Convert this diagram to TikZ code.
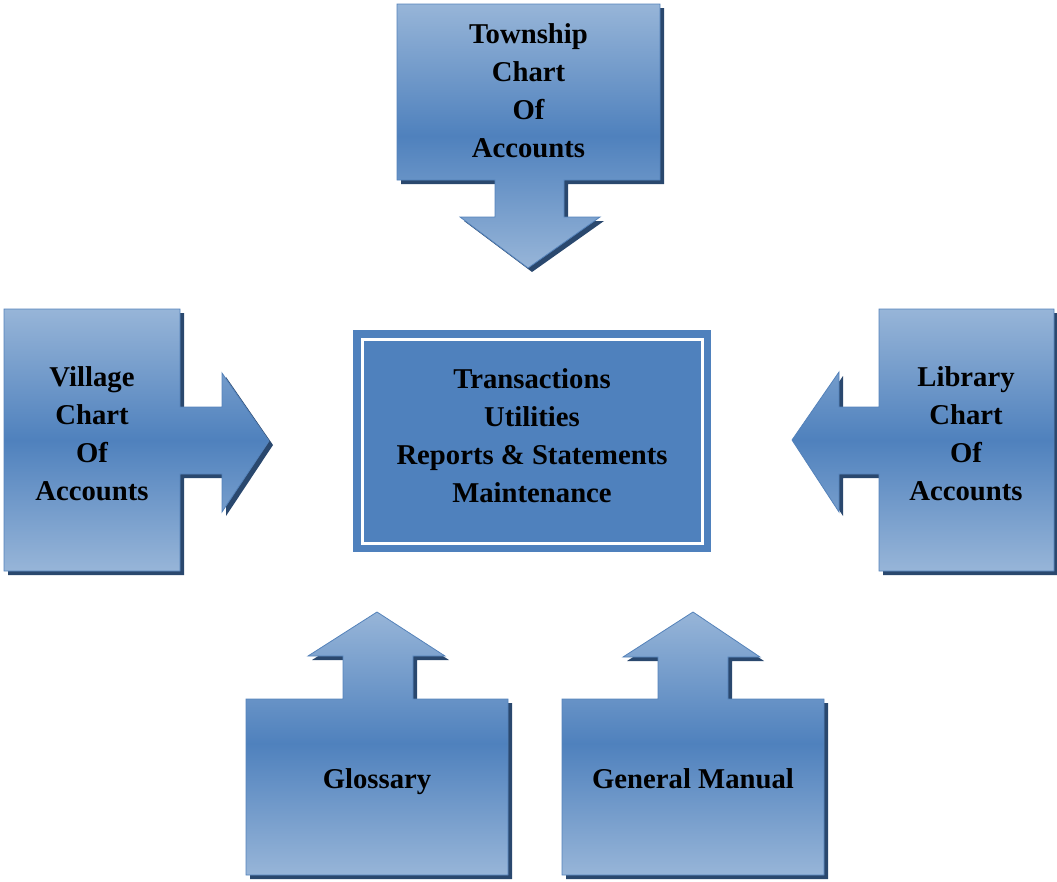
\documentclass[tikz,border=0pt]{standalone}
\usepackage{fontspec}
\setmainfont{Liberation Serif}
\definecolor{blockmid}{RGB}{79,129,189}
\definecolor{blocklight}{RGB}{151,181,216}
\definecolor{blockedge}{RGB}{84,130,186}
\definecolor{blockshadow}{RGB}{42,72,110}
\tikzset{
  label/.style={font=\bfseries\fontsize{28.7}{38}\selectfont, align=center, text=black, inner sep=0pt},
  blockfill/.style={top color=blocklight, bottom color=blocklight, middle color=blockmid},
  blockline/.style={draw=blockedge, line width=0.8pt, line join=miter},
}
% block with drop shadow, vertical gradient and thin outline
\newcommand\blockpath[1]{%
  \fill[blockshadow, shift={(4,4)}] #1;
  \shade[blockfill] #1;
  \draw[blockline] #1;
}
\begin{document}
\begin{tikzpicture}[x=1pt,y=-1pt]
\useasboundingbox (0,0) rectangle (1057,881);

% top: Township block pointing down
\blockpath{(397,4) -- (660,4) -- (660,180) -- (564,180) -- (564,217) -- (600,217)
  -- (528,268) -- (460,217) -- (495,217) -- (495,180) -- (397,180) -- cycle}
% left: Village block pointing right
\blockpath{(4,309) -- (180,309) -- (180,407) -- (222,407) -- (222,373) -- (269,441)
  -- (222,512) -- (222,474) -- (180,474) -- (180,571) -- (4,571) -- cycle}
% right: Library block pointing left
\blockpath{(879,309) -- (1054,309) -- (1054,571) -- (879,571) -- (879,474) -- (839,474)
  -- (839,512) -- (792,440) -- (839,372) -- (839,407) -- (879,407) -- cycle}
% bottom left: Glossary block pointing up
\blockpath{(246,699) -- (343,699) -- (343,656) -- (308,656) -- (377,612) -- (445,656)
  -- (413,656) -- (413,699) -- (508,699) -- (508,875) -- (246,875) -- cycle}
% bottom right: General Manual block pointing up
\blockpath{(562,699) -- (658,699) -- (658,657) -- (623,657) -- (693,612) -- (760,657)
  -- (728,657) -- (728,699) -- (824,699) -- (824,875) -- (562,875) -- cycle}

% central module box with white inner frame
\fill[blockmid] (353,330) rectangle (711,552);
\draw[white, line width=3pt] (362,339) rectangle (702,543);

\node[label] (township) at (528.5,91) {Township\\Chart\\Of\\Accounts};
\node[label] (village) at (92,434) {Village\\Chart\\Of\\Accounts};
\node[label] (library) at (966,434) {Library\\Chart\\Of\\Accounts};
\node[label] (core) at (532,436) {Transactions\\Utilities\\Reports \& Statements\\Maintenance};
\node[label, anchor=base] (glossary) at (377,788) {Glossary};
\node[label, anchor=base] (manual) at (693,788) {General Manual};
\end{tikzpicture}
\end{document}
